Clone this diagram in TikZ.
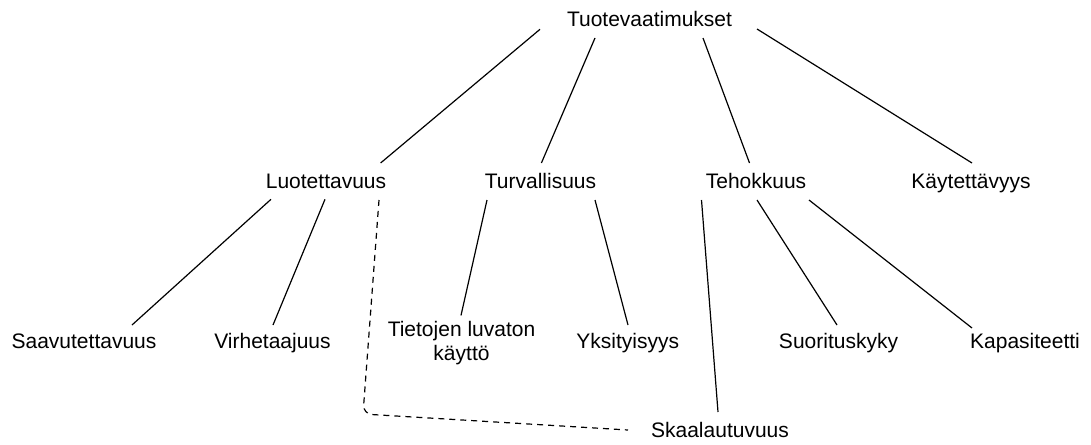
\documentclass[tikz,border=0pt]{standalone}
\usepackage{fontspec}
\setmainfont{Liberation Sans}
\begin{document}
\begin{tikzpicture}[x=1pt,y=-1pt,
  term/.style={inner sep=0pt,anchor=base,font=\fontsize{21}{23.3}\selectfont},
  link/.style={line width=1.2pt},
  dashlink/.style={line width=1.2pt,dash pattern=on 6pt off 5pt,rounded corners=9pt}]
\useasboundingbox[fill=white] (0,0) rectangle (1091,444);

% top level
\node[term] (tuo) at (649.5,26.7) {Tuotevaatimukset};

% second level
\node[term] (luo) at (326,188.3) {Luotettavuus};
\node[term] (tur) at (540.5,188.3) {Turvallisuus};
\node[term] (teh) at (756,188.3) {Tehokkuus};
\node[term] (kay) at (971,188.3) {Käytettävyys};

% third level
\node[term] (saa) at (84,348.3) {Saavutettavuus};
\node[term] (vir) at (272.5,348.3) {Virhetaajuus};
\node[term,anchor=north,align=center] (tie) at (461.5,321.4) {Tietojen luvaton\\käyttö};
\node[term] (yks) at (627.7,348.3) {Yksityisyys};
\node[term] (suo) at (838.5,348.3) {Suorituskyky};
\node[term] (kap) at (1025,348.3) {Kapasiteetti};
\node[term] (ska) at (720,437) {Skaalautuvuus};

% tree edges
\draw[link] ([shift={(-109.5,2.6)}]tuo.base) -- ([shift={(54.6,-25.3)}]luo.base);
\draw[link] ([shift={(-54.5,11.3)}]tuo.base) -- ([shift={(0.9,-25.3)}]tur.base);
\draw[link] ([shift={(53.5,11.3)}]tuo.base) -- ([shift={(-6.5,-25.3)}]teh.base);
\draw[link] ([shift={(107.5,2.3)}]tuo.base) -- ([shift={(1,-25.3)}]kay.base);

\draw[link] ([shift={(-55,11)}]luo.base) -- ([shift={(48,-23.3)}]saa.base);
\draw[link] ([shift={(-1,11)}]luo.base) -- ([shift={(0.5,-23.3)}]vir.base);

\draw[link] ([shift={(-53.5,11.7)}]tur.base) -- ([shift={(-0.5,-6)}]tie.north);
\draw[link] ([shift={(54.5,11.7)}]tur.base) -- ([shift={(0.3,-23.3)}]yks.base);

\draw[link] ([shift={(-54.5,11.7)}]teh.base) -- ([shift={(-2,-25)}]ska.base);
\draw[link] ([shift={(1,11.7)}]teh.base) -- ([shift={(-1.5,-23.3)}]suo.base);
\draw[link] ([shift={(53,11.7)}]teh.base) -- ([shift={(-53,-20.3)}]kap.base);

% dashed cross link
\coordinate (bend) at (363,414);
\draw[dashlink] ([shift={(53,11.7)}]luo.base) -- (bend) -- ([shift={(-92,-7)}]ska.base);
\end{tikzpicture}
\end{document}
